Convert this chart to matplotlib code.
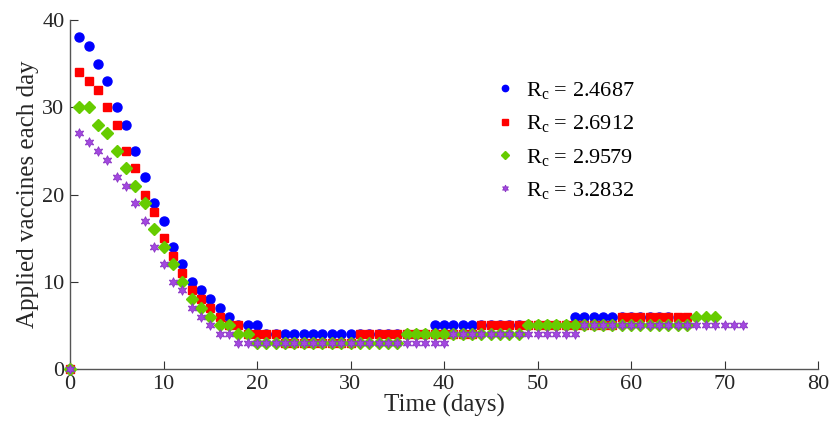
import matplotlib
matplotlib.use("Agg")
import matplotlib.pyplot as plt
import numpy as np

plt.rcParams["font.family"] = ["Liberation Serif", "DejaVu Serif"]
plt.rcParams["mathtext.fontset"] = "custom"
plt.rcParams["mathtext.rm"] = "Liberation Serif"
plt.rcParams["mathtext.it"] = "Liberation Serif:italic"

# --------------------------
# Data (vaccines applied per day)
# --------------------------

rc_labels = ["2.4687", "2.6912", "2.9579", "3.2832"]

vacc_rc1 = [0, 38, 37, 35, 33, 30, 28, 25, 22, 19, 17, 14, 12, 10, 9, 8, 7, 6, 5, 5, 5,
            4, 4, 4, 4, 4, 4, 4, 4, 4, 4, 4, 4, 4, 4, 4, 4, 4, 4,
            5, 5, 5, 5, 5, 5, 5, 5, 5, 5, 5, 5, 5, 5, 5,
            6, 6, 6, 6, 6, 6, 6, 6, 6, 6, 6]

vacc_rc2 = [0, 34, 33, 32, 30, 28, 25, 23, 20, 18, 15, 13, 11, 9, 8, 7, 6, 5, 5, 4,
            4, 4, 4,
            3, 3, 3, 3, 3, 3, 3, 3,
            4, 4, 4, 4, 4, 4, 4, 4, 4, 4, 4, 4, 4,
            5, 5, 5, 5, 5, 5, 5, 5, 5, 5, 5, 5, 5, 5, 5,
            6, 6, 6, 6, 6, 6, 6, 6]

vacc_rc3 = [0, 30, 30, 28, 27, 25, 23, 21, 19, 16, 14, 12, 10, 8, 7, 6, 5, 5, 4, 4,
            3, 3, 3, 3, 3, 3, 3, 3, 3, 3, 3, 3, 3, 3, 3, 3,
            4, 4, 4, 4, 4, 4, 4, 4, 4, 4, 4, 4, 4,
            5, 5, 5, 5, 5, 5, 5, 5, 5, 5, 5, 5, 5, 5, 5, 5, 5, 5,
            6, 6, 6]

vacc_rc4 = [0, 27, 26, 25, 24, 22, 21, 19, 17, 14, 12, 10, 9, 7, 6, 5, 4, 4,
            3, 3, 3, 3, 3, 3, 3, 3, 3, 3, 3, 3, 3, 3, 3, 3, 3, 3, 3, 3, 3, 3, 3,
            4, 4, 4, 4, 4, 4, 4, 4, 4, 4, 4, 4, 4, 4,
            5, 5, 5, 5, 5, 5, 5, 5, 5, 5, 5, 5, 5, 5, 5, 5, 5, 5]

series = [vacc_rc1, vacc_rc2, vacc_rc3, vacc_rc4]

styles = [
    dict(marker="o", color="#0000ff", mec="#0000ff", ms=6.5),
    dict(marker="s", color="#ff0000", mec="#ff0000", ms=5.8),
    dict(marker="D", color="#66cc00", mec="#66cc00", ms=6.0),
    dict(marker=(6, 1, 0), color="#a347e0", mec="#8a35c4", ms=7.0, mew=0.6),
]

# --------------------------
# Plot
# --------------------------

fig = plt.figure(figsize=(8.32, 4.34), dpi=100)
ax = fig.add_axes([70 / 832, 65 / 434, 748 / 832, 349 / 434])

for vals, st, lab in zip(series, styles, rc_labels):
    days = np.arange(len(vals))
    ax.plot(days, vals, linestyle="none", clip_on=False,
            label=r"R$_{\mathrm{c}}$ = " + lab, zorder=3, **st)

ax.set_xlim(0, 80)
ax.set_ylim(0, 40)
ax.set_xticks(np.arange(0, 81, 10))
ax.set_yticks(np.arange(0, 41, 10))

for side in ["top", "right"]:
    ax.spines[side].set_visible(False)
for side in ["left", "bottom"]:
    ax.spines[side].set_color("#555555")
    ax.spines[side].set_linewidth(1.0)

ax.tick_params(direction="in", length=6, width=0.8, color="#333333",
               labelsize=16, labelcolor="#262626", pad=4)

ax.set_xlabel("Time (days)", fontsize=18, color="#262626", labelpad=0)
ax.set_ylabel("Applied vaccines each day", fontsize=18, color="#262626", labelpad=2)

ax.legend(loc="upper left", bbox_to_anchor=(0.54, 0.885), frameon=False,
          fontsize=16, markerscale=0.7, handlelength=1.0, handletextpad=0.45,
          labelspacing=0.55)

fig.savefig("out.png", dpi=100)
plt.close(fig)
